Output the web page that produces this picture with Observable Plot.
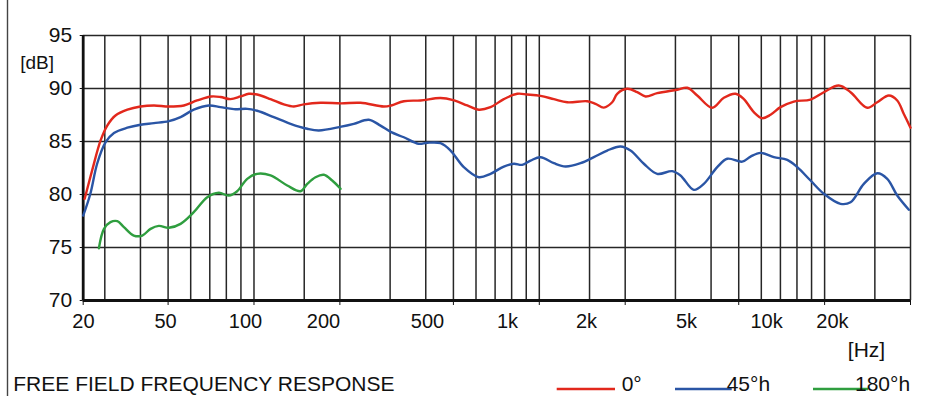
<!DOCTYPE html>
<html>
<head>
<meta charset="utf-8">
<script src="https://cdn.jsdelivr.net/npm/d3@7"></script>
<script src="https://cdn.jsdelivr.net/npm/@observablehq/plot@0.6"></script>
<style>
  html, body { margin: 0; padding: 0; background: #fff; }
  #wrap { position: relative; width: 931px; height: 396px; overflow: hidden; background: #fff; }
  #overlay { position: absolute; left: 0; top: 0; }
  svg text { font-family: "Liberation Sans", Arial, Helvetica, sans-serif; }
</style>
</head>
<body>
<div id="wrap">
  <div id="chart"></div>
  <svg id="overlay" width="931" height="396"></svg>
</div>
<script>
// ---- Data ----
const xMin = 25.2;      // left edge of the grid (labelled "20")
const xMax = 20000;
const gridFreqs = [30, 40, 50, 60, 70, 80, 90, 100, 150, 200, 300, 400, 500, 600, 700, 800, 900,
  1000, 1500, 2000, 3000, 4000, 5000, 6000, 7000, 8000, 9000, 10000, 15000, 20000];
const tickFreqs = [25.2, 50, 100, 200, 500, 1000, 2000, 5000, 10000, 20000];
const tickLabels = ["20", "50", "100", "200", "500", "1k", "2k", "5k", "10k", "20k"];
// frequencies under which each label is printed in the reference
const labelFreqs = [25.26, 48.97, 93.4, 175.2, 405.6, 774, 1464, 3281, 6260, 10657];
const dbTicks = [70, 75, 80, 85, 90, 95];

const seriesNames = ["0°", "45°h", "180°h"];
const seriesColors = ["#e2281c", "#2a55a5", "#2f9e3f"];

const response0 = [[25.5,79.6],[27.1,82.3],[29.0,85.1],[30.6,86.5],[32.7,87.45],[36.0,88.0],[40.0,88.3],[44.6,88.4],[50.3,88.3],[56.8,88.4],[63.2,88.87],[70.8,89.25],[76.3,89.2],[82.7,89.0],[89.7,89.25],[95.9,89.5],[102.6,89.43],[114.3,89.0],[127.2,88.5],[137.9,88.3],[149.5,88.5],[171.1,88.65],[202.2,88.6],[236.3,88.65],[285.1,88.3],[302.7,88.4],[335.1,88.8],[383.4,88.87],[450.5,89.1],[499.2,88.9],[559.0,88.4],[613.7,88.0],[674.5,88.24],[751,89.0],[836.8,89.5],[907.3,89.43],[1010,89.3],[1125,89.0],[1253,88.7],[1472,88.8],[1574,88.55],[1683,88.2],[1801,88.7],[1875,89.5],[2033,89.97],[2204,89.65],[2357,89.25],[2590,89.56],[3044,89.88],[3300,90.07],[3577,89.34],[4038,88.18],[4435,89.12],[4873,89.5],[5211,89.0],[5649,87.77],[6044,87.2],[6464,87.52],[7006,88.24],[7802,88.77],[8926,88.96],[9939,89.65],[11212,90.28],[12328,89.65],[14104,88.18],[15291,88.7],[16794,89.34],[17970,88.87],[18953,87.6],[20000,86.3]];

const response45 = [[25.2,78.0],[26.7,80.07],[28.2,82.9],[30.2,84.93],[32.3,85.8],[36.0,86.3],[40.0,86.58],[44.6,86.73],[50.3,86.92],[55.3,87.3],[61.5,88.0],[69.4,88.4],[76.3,88.24],[85.0,88.05],[94.7,88.08],[102.6,87.9],[117.3,87.3],[134.3,86.67],[153.7,86.2],[168.7,86.04],[202.2,86.4],[223.8,86.67],[252.6,87.05],[277.6,86.5],[302.7,85.88],[335.1,85.4],[378.2,84.78],[404.7,84.88],[450.5,84.84],[488.5,84.15],[543.8,82.58],[613.7,81.63],[674.5,81.95],[751,82.64],[814.1,82.9],[871.1,82.8],[931.8,83.2],[1010,83.52],[1125,82.95],[1236,82.64],[1395,82.95],[1553,83.52],[1730,84.15],[1926,84.53],[2088,84.15],[2325,82.9],[2590,81.95],[2923,82.2],[3125,81.8],[3480,80.44],[3772,81.0],[4203,82.58],[4558,83.37],[5143,83.1],[5501,83.58],[5962,83.93],[6638,83.52],[7396,83.27],[8019,82.58],[8926,81.32],[9939,80.07],[11368,79.12],[12328,79.27],[13724,81.0],[15291,82.0],[16577,81.48],[17970,79.9],[19734,78.56]];

const response180 = [[28.6,74.93],[29.8,76.76],[31.4,77.39],[33.2,77.48],[35.0,76.92],[37.9,76.13],[40.6,76.13],[43.4,76.76],[46.4,77.04],[50.3,76.86],[55.3,77.23],[61.5,78.33],[68.6,79.75],[75.3,80.16],[81.6,79.9],[87.3,80.31],[94.7,81.48],[102.6,81.95],[114.3,81.8],[130.8,80.85],[145.6,80.31],[153.7,81.0],[164.3,81.63],[175.7,81.86],[188.0,81.32],[201.1,80.54]];

const title = "FREE FIELD FREQUENCY RESPONSE";

// ---- Chart ----
const font = "Liberation Sans, Arial, Helvetica, sans-serif";
const gridColor = "#262626";
const allSeries = [response0, response45, response180];

const chart = Plot.plot({
  width: 931,
  height: 396,
  marginLeft: 82.7,
  marginRight: 21,
  marginTop: 35,
  marginBottom: 96,
  style: {fontFamily: font, fontSize: "20px", color: "#111", background: "transparent", overflow: "visible"},
  x: {type: "log", domain: [xMin, xMax]},
  y: {domain: [70, 95]},
  marks: [
    Plot.ruleX(gridFreqs, {stroke: gridColor, strokeWidth: 1.5}),
    Plot.ruleY(dbTicks.slice(1), {stroke: gridColor, strokeWidth: 1.5}),
    Plot.axisY({ticks: dbTicks, tickSize: 3, tickPadding: 8, fontSize: 21, label: null, stroke: "#111"}),
    Plot.axisX({ticks: tickFreqs, tickSize: 5, tickFormat: () => "", label: null, stroke: "#111"}),
    Plot.ruleY([70], {stroke: "#111", strokeWidth: 2.8}),
    Plot.ruleX([xMin], {stroke: "#111", strokeWidth: 2.8}),
    ...allSeries.map((s, i) => Plot.line(s, {
      x: d => d[0], y: d => d[1], stroke: seriesColors[i], strokeWidth: 2.4, curve: "catmull-rom"
    })),
    Plot.text(tickLabels, {x: (d, i) => labelFreqs[i], frameAnchor: "bottom", dy: 21,
      lineAnchor: "middle", textAnchor: "middle", fontSize: 20, fill: "#111"}),
    Plot.text(["[dB]"], {frameAnchor: "top-left", dx: -63, dy: 27, textAnchor: "start",
      lineAnchor: "middle", fontSize: 19, fill: "#111"}),
    Plot.text(["[Hz]"], {frameAnchor: "bottom-right", dx: -44, dy: 50, textAnchor: "middle",
      lineAnchor: "middle", fontSize: 21, fill: "#111"})
  ]
});
document.getElementById("chart").appendChild(chart);

// ---- Title, legend, border (overlay) ----
const ov = d3.select("#overlay");
ov.append("line").attr("x1", 7.5).attr("x2", 7.5).attr("y1", 0).attr("y2", 396)
  .attr("stroke", "#444").attr("stroke-width", 1.4);
ov.append("text").attr("x", 13.3).attr("y", 391).attr("font-size", 21).attr("fill", "#111").text(title);
const legendPos = [[556.7, 615, 621.7], [675, 731.7, 726.7], [813, 868, 855]];
seriesNames.forEach((name, i) => {
  const [x1, x2, tx] = legendPos[i];
  ov.append("line").attr("x1", x1).attr("x2", x2).attr("y1", 389).attr("y2", 389)
    .attr("stroke", seriesColors[i]).attr("stroke-width", 2.3);
  ov.append("text").attr("x", tx).attr("y", 391).attr("font-size", 21).attr("fill", "#111").text(name);
});
</script>
</body>
</html>
